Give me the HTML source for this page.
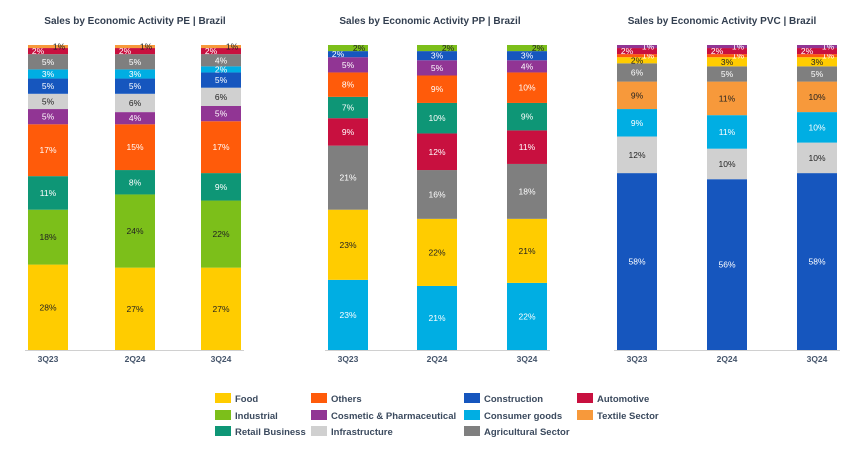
<!DOCTYPE html>
<html><head><meta charset="utf-8"><style>
body{margin:0;background:#fff;width:853px;height:445px;overflow:hidden;font-family:"Liberation Sans",sans-serif}
svg text{font-family:"Liberation Sans",sans-serif}
</style></head><body>
<svg id="c" width="853" height="445"></svg>
<script>
const periods=["3Q23","2Q24","3Q24"];
const peSeries=["Food","Industrial","Retail Business","Others","Cosmetic & Pharmaceutical","Infrastructure","Construction","Consumer goods","Agricultural Sector","Automotive","Textile Sector"];
const peValues=[[28,18,11,17,5,5,5,3,5,2,1],[27,24,8,15,4,6,5,3,5,2,1],[27,22,9,17,5,6,5,2,4,2,1]];
const ppSeries=["Consumer goods","Food","Agricultural Sector","Automotive","Retail Business","Others","Cosmetic & Pharmaceutical","Construction","Industrial"];
const ppValues=[[23,23,21,9,7,8,5,2,2],[21,22,16,12,10,9,5,3,2],[22,21,18,11,9,10,4,3,2]];
const pvcSeries=["Construction","Infrastructure","Consumer goods","Textile Sector","Agricultural Sector","Food","Others","Automotive","Cosmetic & Pharmaceutical"];
const pvcValues=[[58,12,9,9,6,2,1,2,1],[56,10,11,11,5,3,1,2,1],[58,10,10,10,5,3,1,2,1]];
const colors={"Food":"#FFCC00","Others":"#FF5B0A","Construction":"#1656BE","Automotive":"#C8103F","Industrial":"#7CBF1A","Cosmetic & Pharmaceutical":"#913594","Consumer goods":"#00AEE3","Textile Sector":"#F7993B","Retail Business":"#0E9676","Infrastructure":"#D0D0D0","Agricultural Sector":"#7F7F7F"};
const dark={"Food":1,"Industrial":1,"Infrastructure":1,"Textile Sector":1};
const svg=document.getElementById('c');
const NS="http://www.w3.org/2000/svg";
function mk(t,a,txt){const e=document.createElementNS(NS,t);for(const k in a)e.setAttribute(k,a[k]);if(txt!==undefined)e.textContent=txt;svg.appendChild(e);return e;}
const base=350,top0=45,H=base-top0;
function y(v){return base-v/100*H;}
function chart(key,title,tx,xs,series,values){
  let t=mk('text',{x:tx,y:24,'text-anchor':'middle','font-size':'10','font-weight':'bold',fill:'#333F50'},title);
  
  
  let ax=mk('line',{x1:xs[0]-3,x2:xs[2]+43,y1:base+0.5,y2:base+0.5,stroke:'#D0D0D0','stroke-width':1});
  
  
  values.forEach((vals,i)=>{
    let cum=0;const x=xs[i];
    const n=vals.length;
    vals.forEach((v,j)=>{
      const s=series[j];
      const r=mk('rect',{x:x,y:y(cum+v),width:40,height:y(cum)-y(cum+v),fill:colors[s]});
      
      
      let lx=x+20, ly=(y(cum)+y(cum+v))/2+3;
      if(v<=2 && j>=n-3){ lx = (j%2===0)? x+31 : x+10; }
      const l=mk('text',{x:lx,y:ly,'text-anchor':'middle','font-size':'8.5',fill:dark[s]?'#222':'#fff'},v+'%');
      
      
      cum+=v;
    });
    const c=mk('text',{x:x+20,y:362,'text-anchor':'middle','font-size':'8.5','font-weight':'bold',fill:'#44546A'},periods[i]);
    
    
  });
}
chart('pe','Sales by Economic Activity PE | Brazil',135,[28,115,201],peSeries,peValues);
chart('pp','Sales by Economic Activity PP | Brazil',430,[328,417,507],ppSeries,ppValues);
chart('pvc','Sales by Economic Activity PVC | Brazil',722,[617,707,797],pvcSeries,pvcValues);
const legendItems=[["Food",215,398],["Industrial",215,415],["Retail Business",215,431],["Others",311,398],["Cosmetic & Pharmaceutical",311,415],["Infrastructure",311,431],["Construction",464,398],["Consumer goods",464,415],["Agricultural Sector",464,431],["Automotive",577,398],["Textile Sector",577,415]];
legendItems.forEach(([n,x,yy])=>{
  const r=mk('rect',{x:x,y:yy-5,width:16,height:10,fill:colors[n]});
  
  
  const t=mk('text',{x:x+20,y:yy+4,'font-size':'9.5','font-weight':'bold',fill:'#3B4A5E'},n);
  
  
});
</script>
</body></html>
